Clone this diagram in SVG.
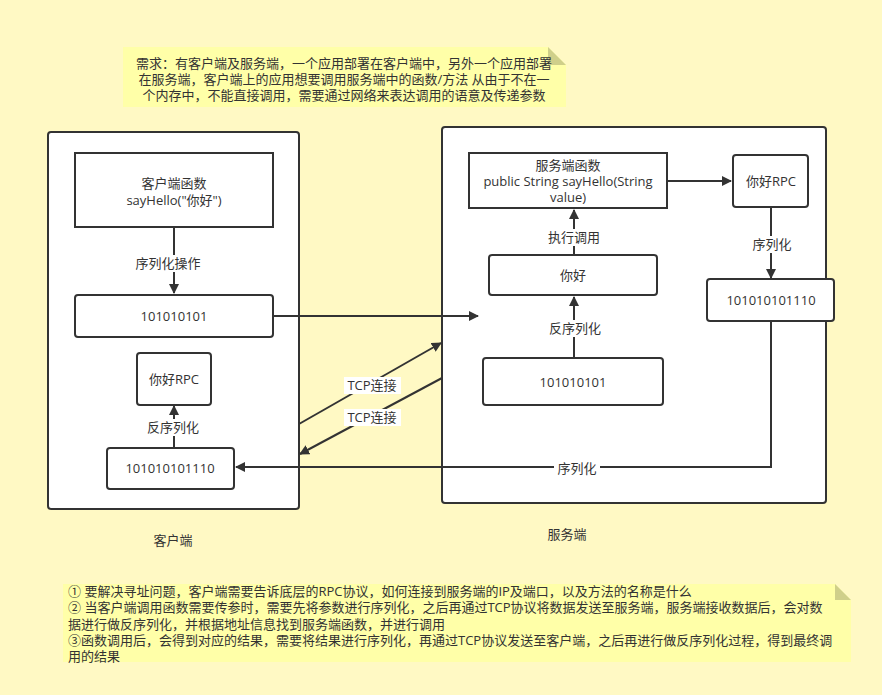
<svg xmlns="http://www.w3.org/2000/svg" width="882" height="695" viewBox="0 0 882 695">
<defs>
<marker id="ah" viewBox="0 0 10 10" refX="9" refY="5" markerWidth="10" markerHeight="10" markerUnits="userSpaceOnUse" orient="auto">
<path d="M0,0 L10,5 L0,10 Z" fill="#333"/>
</marker>
<style>
text{font-family:"Open Sans","Noto Sans CJK SC",sans-serif;font-size:13px;fill:#333;}
.c{text-anchor:middle;}
.box{fill:#fff;stroke:#333;stroke-width:2;}
.line{fill:none;stroke:#333;stroke-width:2;}
.arr{fill:none;stroke:#333;stroke-width:2;marker-end:url(#ah);}
.note{fill:#ffffa8;}
.fold{fill:#cfcf8a;}
.lbl{fill:#fff;}
</style>
</defs>
<rect x="0" y="0" width="882" height="695" fill="#fff9c4"/>

<g id="note-top">
<path class="note" d="M123,47 L548,47 L566,65 L566,107 L123,107 Z"/>
<path class="fold" d="M548,47 L566,65 L548,65 Z"/>
<text class="c" x="344" y="68">需求：有客户端及服务端，一个应用部署在客户端中，另外一个应用部署</text>
<text class="c" x="344" y="84">在服务端，客户端上的应用想要调用服务端中的函数/方法 从由于不在一</text>
<text class="c" x="344" y="100">个内存中，不能直接调用，需要通过网络来表达调用的语意及传递参数</text>
</g>

<g id="client">
<rect class="box" x="48" y="132" width="251" height="377" rx="3"/>
<text class="c" x="173" y="545">客户端</text>
</g>
<g id="server">
<rect class="box" x="442" y="127" width="384" height="376" rx="3"/>
<text class="c" x="567" y="539">服务端</text>
</g>

<g id="connectors">
<path class="arr" d="M174,227 L174,293"/>
<path class="arr" d="M273,316 L478,316"/>
<path class="arr" d="M174,448 L174,406"/>
<path class="arr" d="M299,424 L441,343"/>
<path class="arr" d="M442,378 L300,454"/>
<path class="arr" d="M574,358 L574,297"/>
<path class="arr" d="M574,255 L574,210"/>
<path class="arr" d="M667,181 L731,181"/>
<path class="arr" d="M771,207 L771,278"/>
<path class="arr" d="M771,321 L771,467 L236,467"/>
<rect class="lbl" x="133" y="255" width="72" height="17"/>
<text class="c" x="168" y="268">序列化操作</text>
<rect class="lbl" x="145" y="419" width="56" height="17"/>
<text class="c" x="173" y="432">反序列化</text>
<rect class="lbl" x="344" y="377" width="57" height="17"/>
<text class="c" x="372" y="390">TCP连接</text>
<rect class="lbl" x="344" y="409" width="57" height="17"/>
<text class="c" x="372" y="422">TCP连接</text>
<rect class="lbl" x="545" y="229" width="58" height="17"/>
<text class="c" x="574" y="242">执行调用</text>
<rect class="lbl" x="546" y="320" width="58" height="17"/>
<text class="c" x="575" y="333">反序列化</text>
<rect class="lbl" x="749" y="236" width="44" height="17"/>
<text class="c" x="772" y="249">序列化</text>
<rect class="lbl" x="554" y="460" width="46" height="17"/>
<text class="c" x="577" y="473">序列化</text>
</g>

<g id="client-func">
<rect class="box" x="75" y="153" width="198" height="74"/>
<text class="c" x="174" y="188">客户端函数</text>
<text class="c" x="174" y="205">sayHello("你好")</text>
</g>
<g id="client-bin1">
<rect class="box" x="75" y="295" width="198" height="42" rx="3"/>
<text class="c" x="174" y="321">101010101</text>
</g>
<g id="client-rpc">
<rect class="box" x="137" y="353" width="74" height="52" rx="3"/>
<text class="c" x="174" y="384">你好RPC</text>
</g>
<g id="client-bin2">
<rect class="box" x="107" y="448" width="127" height="41" rx="3"/>
<text class="c" x="170" y="473">101010101110</text>
</g>

<g id="server-func">
<rect class="box" x="469" y="153" width="198" height="55"/>
<text class="c" x="568" y="170">服务端函数</text>
<text class="c" x="568" y="186">public String sayHello(String</text>
<text class="c" x="568" y="202">value)</text>
</g>
<g id="server-hello">
<rect class="box" x="489" y="255" width="168" height="40" rx="3"/>
<text class="c" x="573" y="280">你好</text>
</g>
<g id="server-bin1">
<rect class="box" x="483" y="358" width="180" height="47" rx="3"/>
<text class="c" x="573" y="387">101010101</text>
</g>
<g id="server-rpc">
<rect class="box" x="733" y="155" width="75" height="52" rx="3"/>
<text class="c" x="771" y="186">你好RPC</text>
</g>
<g id="server-bin2">
<rect class="box" x="707" y="279" width="127" height="42" rx="3"/>
<text class="c" x="771" y="305">101010101110</text>
</g>

<g id="note-bottom">
<path class="note" d="M63,584 L835,584 L851,600 L851,662 L63,662 Z"/>
<path class="fold" d="M835,584 L851,600 L835,600 Z"/>
<text x="68" y="596">① 要解决寻址问题，客户端需要告诉底层的RPC协议，如何连接到服务端的IP及端口，以及方法的名称是什么</text>
<text x="68" y="612">② 当客户端调用函数需要传参时，需要先将参数进行序列化，之后再通过TCP协议将数据发送至服务端，服务端接收数据后，会对数</text>
<text x="68" y="629">据进行做反序列化，并根据地址信息找到服务端函数，并进行调用</text>
<text x="68" y="645">③函数调用后，会得到对应的结果，需要将结果进行序列化，再通过TCP协议发送至客户端，之后再进行做反序列化过程，得到最终调</text>
<text x="68" y="661">用的结果</text>
</g>
</svg>
